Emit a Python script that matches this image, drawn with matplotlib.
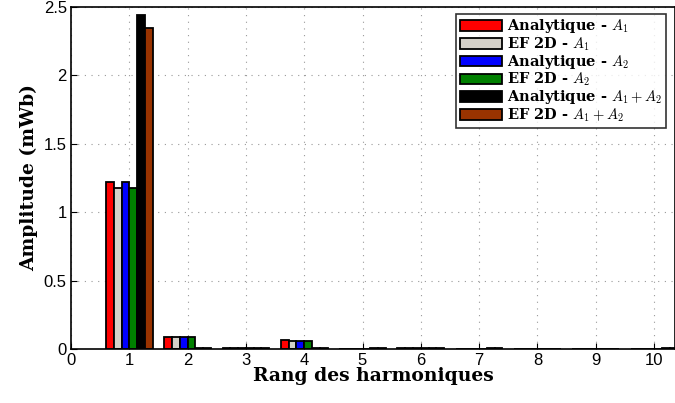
import numpy as np
import matplotlib
matplotlib.use("Agg")
import matplotlib.pyplot as plt

plt.rcParams["mathtext.fontset"] = "cm"

harmonics = np.arange(1, 11)
ana_a1 = [1.22, 0.09, 0.004, 0.065, 0.003, 0.006, 0.003, 0.002, 0.002, 0.002]
ef_a1 = [1.18, 0.09, 0.004, 0.060, 0.003, 0.006, 0.003, 0.002, 0.002, 0.002]
ana_a2 = [1.22, 0.09, 0.004, 0.060, 0.003, 0.007, 0.003, 0.002, 0.002, 0.002]
ef_a2 = [1.18, 0.085, 0.004, 0.060, 0.003, 0.006, 0.003, 0.002, 0.002, 0.002]
ana_sum = [2.44, 0.010, 0.005, 0.005, 0.004, 0.004, 0.006, 0.002, 0.002, 0.004]
ef_sum = [2.35, 0.010, 0.005, 0.005, 0.004, 0.004, 0.006, 0.002, 0.002, 0.004]

series = [
    (ana_a1, "#ff0000", r"Analytique - $A_1$"),
    (ef_a1, "#d4d0c8", r"EF 2D - $A_1$"),
    (ana_a2, "#0000ff", r"Analytique - $A_2$"),
    (ef_a2, "#008000", r"EF 2D - $A_2$"),
    (ana_sum, "#000000", r"Analytique - $A_1 + A_2$"),
    (ef_sum, "#993300", r"EF 2D - $A_1 + A_2$"),
]

fig = plt.figure(figsize=(6.75, 4.03), dpi=100)
ax = fig.add_axes([71 / 675, 1 - 349 / 403, 604 / 675, 342 / 403])

n = len(series)
w = 0.8 / n
for i, (vals, col, lab) in enumerate(series):
    ax.bar(harmonics - 0.4 + w * (i + 0.5), vals, width=w, color=col,
           edgecolor="black", linewidth=1.3, label=lab)

ax.set_xlim(0, 10.36)
ax.set_ylim(0, 2.5)
ax.set_xticks(range(0, 11))
ax.set_yticks([0, 0.5, 1, 1.5, 2, 2.5])
ax.set_yticklabels(["0", "0.5", "1", "1.5", "2", "2.5"])
ax.grid(True, linestyle=(0, (1, 5)), color="#999999", lw=0.8)
ax.set_axisbelow(True)
ax.tick_params(direction="in", labelsize=12, length=4, pad=3)
for lbl in ax.get_xticklabels() + ax.get_yticklabels():
    lbl.set_family("Liberation Sans")
for s in ax.spines.values():
    s.set_linewidth(1.2)

ax.set_xlabel("Rang des harmoniques", fontsize=13.5, fontweight="bold",
              family="DejaVu Serif", labelpad=-1)
ax.set_ylabel("Amplitude (mWb)", fontsize=13.5, fontweight="bold",
              family="DejaVu Serif", labelpad=4)

leg = ax.legend(loc="upper right", frameon=True, fancybox=False,
                edgecolor="black", handlelength=2.9, handleheight=0.75,
                labelspacing=0.0, borderpad=0.25, handletextpad=0.3,
                borderaxespad=0.35, bbox_to_anchor=(0.993, 0.995),
                prop={"family": "DejaVu Serif", "weight": "bold", "size": 10.5})
leg.get_frame().set_linewidth(1.2)

fig.savefig("out.png", dpi=100, facecolor="white")
